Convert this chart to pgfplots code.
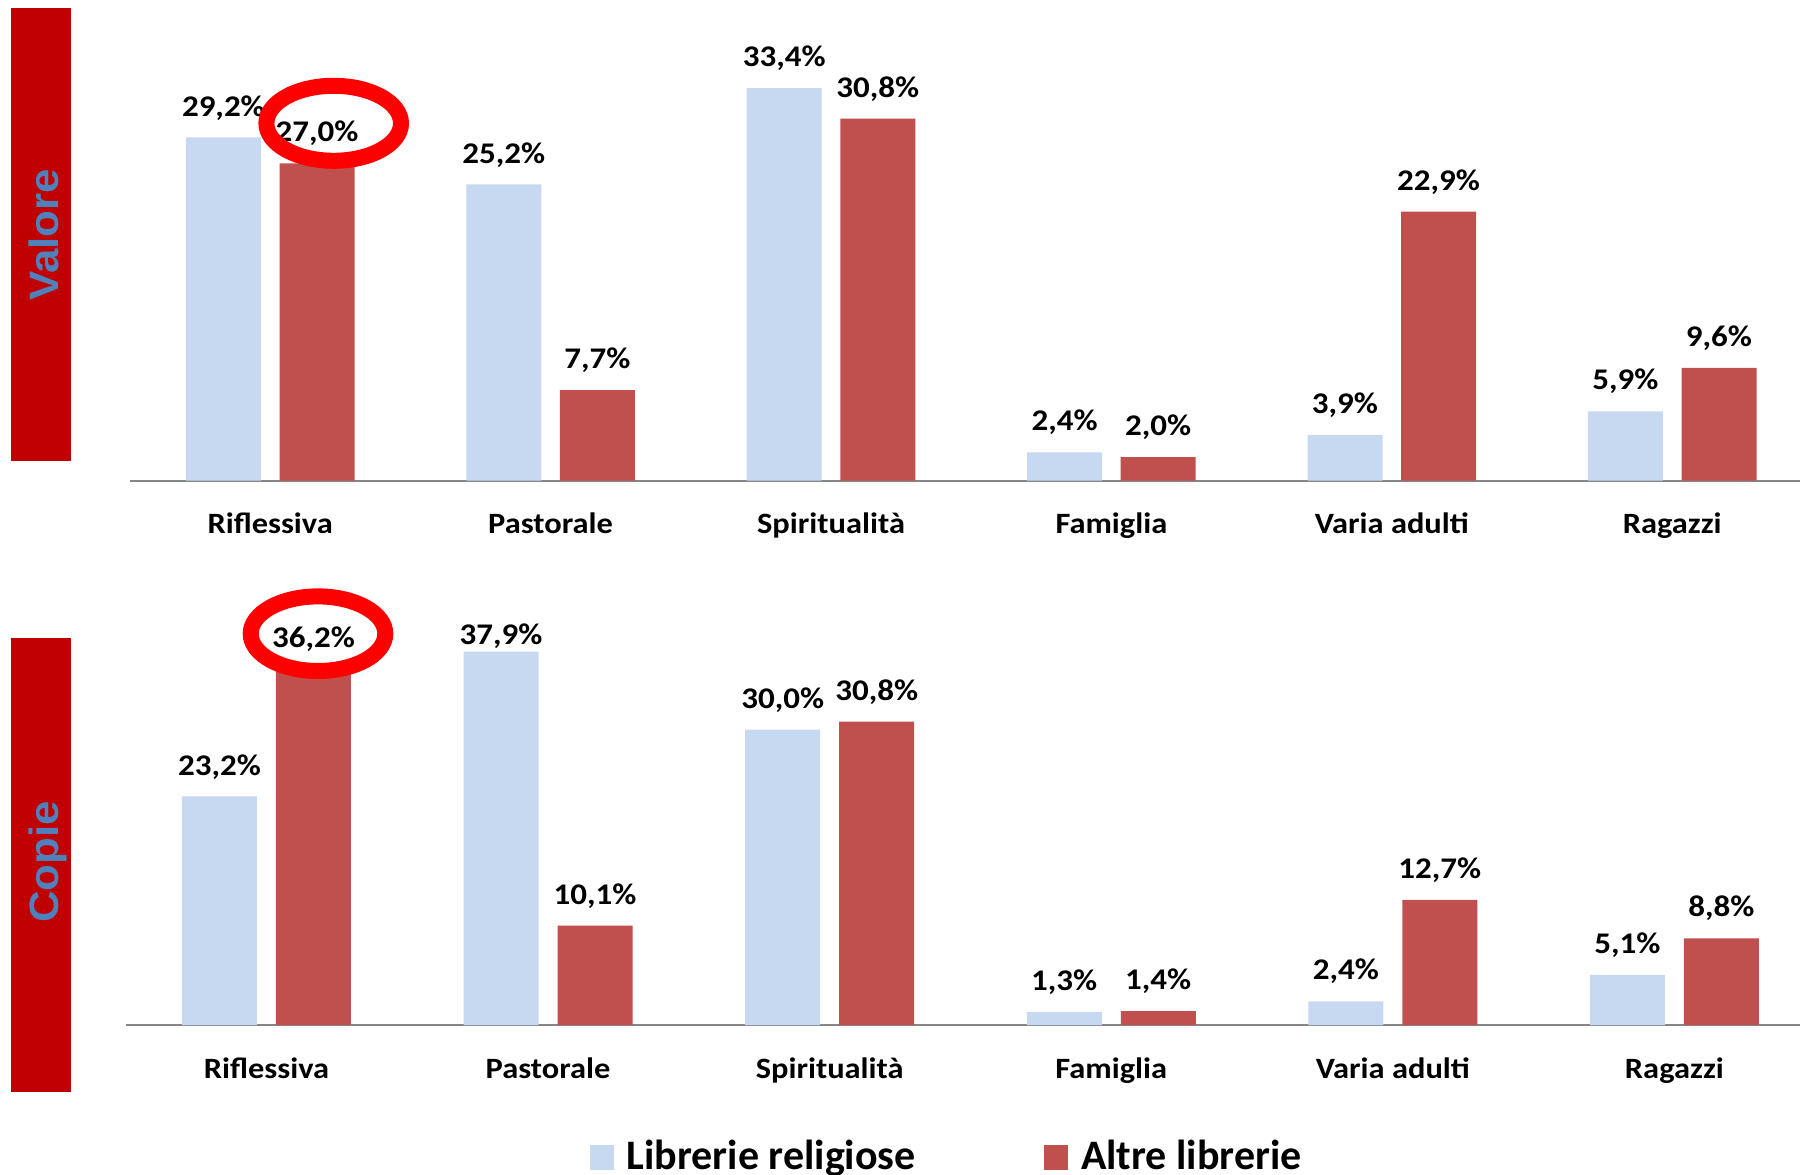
\documentclass[border=0pt]{standalone}
\usepackage{fontspec}
\usepackage{pgfplots}
\usepackage{pgfplotstable}
\pgfplotsset{compat=1.18}
\setmainfont{Carlito}
\newfontfamily\labfont{Carlito Bold}[FakeStretch=1.1]
\newfontfamily\legfont{Carlito Bold}
\newfontfamily\sidefont{Liberation Sans Bold}[FakeStretch=1.07]
\definecolor{cblue}{HTML}{C6D9F1}
\definecolor{cred}{HTML}{C0504D}
\definecolor{sidered}{HTML}{C00000}
\definecolor{sideblue}{HTML}{4F81BD}
\definecolor{axgray}{HTML}{868686}
\definecolor{ringred}{HTML}{FF0000}

\pgfplotstableread{
x y s
0 29.2 21.5
1 25.2 21.5
2 33.4 21.5
3 2.4 21.5
4 3.9 21.5
5 5.9 21.5
}\topA
\pgfplotstableread{
x y s
0 27.0 21.5
1 7.7 21.5
2 30.8 21.5
3 2.0 21.5
4 22.9 21.5
5 9.6 21.5
}\topB
\pgfplotstableread{
x y s
0 23.2 21.5
1 37.9 7
2 30.0 21.5
3 1.3 21.5
4 2.4 21.5
5 5.1 21.5
}\botA
\pgfplotstableread{
x y s
0 36.2 21.5
1 10.1 21.5
2 30.8 21.5
3 1.4 21.5
4 12.7 21.5
5 8.8 21.5
}\botB

\pgfplotsset{
 panel/.style={
  scale only axis,
  axis x line=bottom, axis y line=none,
  x axis line style={-, draw=axgray, line width=2bp},
  xtick={0,...,5},
  xticklabels={Riflessiva,Pastorale,Spiritualità,Famiglia,Varia adulti,Ragazzi},
  major tick length=0pt, xtick style={draw=none},
  xticklabel style={font=\labfont\fontsize{29.5bp}{35bp}\selectfont, text=black, anchor=base, yshift=-53bp, inner sep=0pt},
  ymin=0, xmin=-0.5, clip=false,
 },
 bars/.style 2 args={
  ybar, bar width=75bp, bar shift=#2, draw=none, fill=#1,
  visualization depends on={\thisrow{s}\as\ls},
  nodes near coords={\pgfmathprintnumber[fixed,fixed zerofill,precision=1,use comma,assume math mode=true]{\pgfplotspointmeta}\%},
  every node near coord/.append style={font=\labfont\fontsize{30bp}{36bp}\selectfont, text=black, anchor=base, inner sep=0pt, xshift=#2, yshift=\ls pt},
  legend image code/.code={\fill[fill=#1,draw=none] (0bp,0bp) rectangle (24bp,24.3bp);},
 },
}

\begin{document}
\begin{tikzpicture}
\path[use as bounding box] (0bp,0bp) rectangle (1800bp,1175bp);

\fill[sidered] (10.5bp,713.5bp) rectangle (71bp,1167bp);
\fill[sidered] (10.5bp,83bp) rectangle (71bp,537bp);
\node[rotate=90, anchor=base, text=sideblue, inner sep=0pt, font=\sidefont\fontsize{41bp}{48bp}\selectfont] at (58.3bp,940bp) {Valore};
\node[rotate=90, anchor=base, text=sideblue, inner sep=0pt, font=\sidefont\fontsize{41bp}{48bp}\selectfont] at (58.3bp,313bp) {Copie};

\begin{axis}[panel, at={(130bp,694.4bp)}, anchor=south west,
  width=1670bp, height=470bp, xmax=5.456, ymax=40]
\addplot[bars={cblue}{-46.8bp}] table[x=x,y=y] {\topA};
\addplot[bars={cred}{46.8bp}] table[x=x,y=y] {\topB};
\end{axis}

\begin{axis}[panel, at={(125.7bp,150bp)}, anchor=south west,
  width=1674.3bp, height=398.9bp, xmax=5.446, ymax=40.5,
  legend columns=2, legend cell align=left,
  legend style={at={(axis description cs:0.2773,-0.3666)}, anchor=south west,
    draw=none, fill=none, inner sep=0pt, outer sep=0pt,
    font=\legfont\fontsize{42bp}{50bp}\selectfont,
    nodes={inner sep=0pt},
    cells={anchor=base west},
    /tikz/every odd column/.append style={column sep=12.7bp},
    /tikz/every even column/.append style={column sep=128.7bp}}]
\addplot[bars={cblue}{-47bp}] table[x=x,y=y] {\botA};
\addplot[bars={cred}{47bp}] table[x=x,y=y] {\botB};
\legend{Librerie religiose, Altre librerie}
\end{axis}

\draw[ringred, line width=16bp] (333.7bp,1051.7bp) ellipse [x radius=67.3bp, y radius=37.5bp];
\draw[ringred, line width=16bp] (318bp,541.3bp) ellipse [x radius=67.3bp, y radius=37.3bp];
\end{tikzpicture}
\end{document}
